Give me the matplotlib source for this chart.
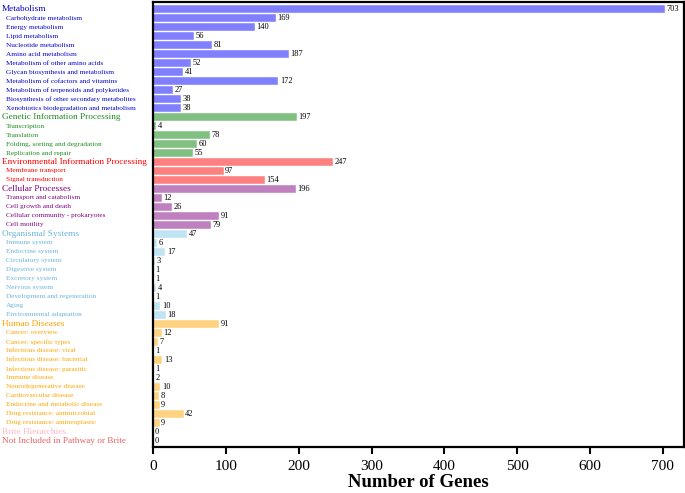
import matplotlib
matplotlib.use("Agg")
import matplotlib.pyplot as plt
import matplotlib.transforms as mtransforms

labels = [
    "Metabolism", "Carbohydrate metabolism", "Energy metabolism", "Lipid metabolism",
    "Nucleotide metabolism", "Amino acid metabolism", "Metabolism of other amino acids",
    "Glycan biosynthesis and metabolism", "Metabolism of cofactors and vitamins",
    "Metabolism of terpenoids and polyketides", "Biosynthesis of other secondary metabolites",
    "Xenobiotics biodegradation and metabolism",
    "Genetic Information Processing", "Transcription", "Translation",
    "Folding, sorting and degradation", "Replication and repair",
    "Environmental Information Processing", "Membrane transport", "Signal transduction",
    "Cellular Processes", "Transport and catabolism", "Cell growth and death",
    "Cellular community - prokaryotes", "Cell motility",
    "Organismal Systems", "Immune system", "Endocrine system", "Circulatory system",
    "Digestive system", "Excretory system", "Nervous system",
    "Development and regeneration", "Aging", "Environmental adaptation",
    "Human Diseases", "Cancer: overview", "Cancer: specific types",
    "Infectious disease: viral", "Infectious disease: bacterial",
    "Infectious disease: parasitic", "Immune disease", "Neurodegenerative disease",
    "Cardiovascular disease", "Endocrine and metabolic disease",
    "Drug resistance: antimicrobial", "Drug resistance: antineoplastic",
    "Brite Hierarchies", "Not Included in Pathway or Brite",
]
values = [
    703, 169, 140, 56, 81, 187, 52, 41, 172, 27, 38, 38,
    197, 4, 78, 60, 55,
    247, 97, 154,
    196, 12, 26, 91, 79,
    47, 6, 17, 3, 1, 1, 4, 1, 10, 18,
    91, 12, 7, 1, 13, 1, 2, 10, 8, 9, 42, 9,
    0, 0,
]
# group index of each row; True marks a top-level category
groups = [0]*12 + [1]*5 + [2]*3 + [3]*5 + [4]*10 + [5]*12 + [6] + [7]
is_main = [True] + [False]*11 + [True] + [False]*4 + [True] + [False]*2 + \
          [True] + [False]*4 + [True] + [False]*9 + [True] + [False]*11 + [True, True]

bar_colors = ["#8080FF", "#80C080", "#FF8080", "#BF80BF", "#C0E4F4", "#FFD280", "#FFC0CB", "#F08080"]
text_colors = ["#0000CD", "#228B22", "#FF0000", "#800080", "#6CB4DC", "#FFA500", "#FFB6C1", "#E8615F"]

plt.rcParams['font.family'] = ['Liberation Serif', 'DejaVu Serif']

fig = plt.figure(figsize=(6.85, 4.93), dpi=100)
ax = fig.add_axes([0.2234, 0.0933, 0.7751, 0.9027])

ys = list(range(len(labels)))
ax.barh(ys, values, height=0.9, color=[bar_colors[g] for g in groups],
        edgecolor="white", linewidth=0.3)
for y, v in zip(ys, values):
    ax.text(v + 2, y, str(v), va="center", ha="left", fontsize=6, color="black")

ax.set_ylim(48.7, -0.8)
ax.set_xlim(0, 729)
ax.set_yticks([])
ax.set_xticks([0, 100, 200, 300, 400, 500, 600, 700])
ax.tick_params(axis="x", direction="out", length=5, width=1.5, labelsize=11, pad=4)
for s in ax.spines.values():
    s.set_linewidth(1.6)
ax.set_xlabel("Number of Genes", fontsize=13.5, fontweight="bold", labelpad=1)

trans = mtransforms.blended_transform_factory(fig.transFigure, ax.transData)
for y, lab, g, m in zip(ys, labels, groups, is_main):
    if m:
        ax.text(2/685, y, lab, transform=trans, ha="left", va="center",
                fontsize=6.7, color=text_colors[g])
    else:
        ax.text(6/685, y, lab, transform=trans, ha="left", va="center",
                fontsize=5.25, color=text_colors[g])

fig.savefig("out.png", dpi=100)
